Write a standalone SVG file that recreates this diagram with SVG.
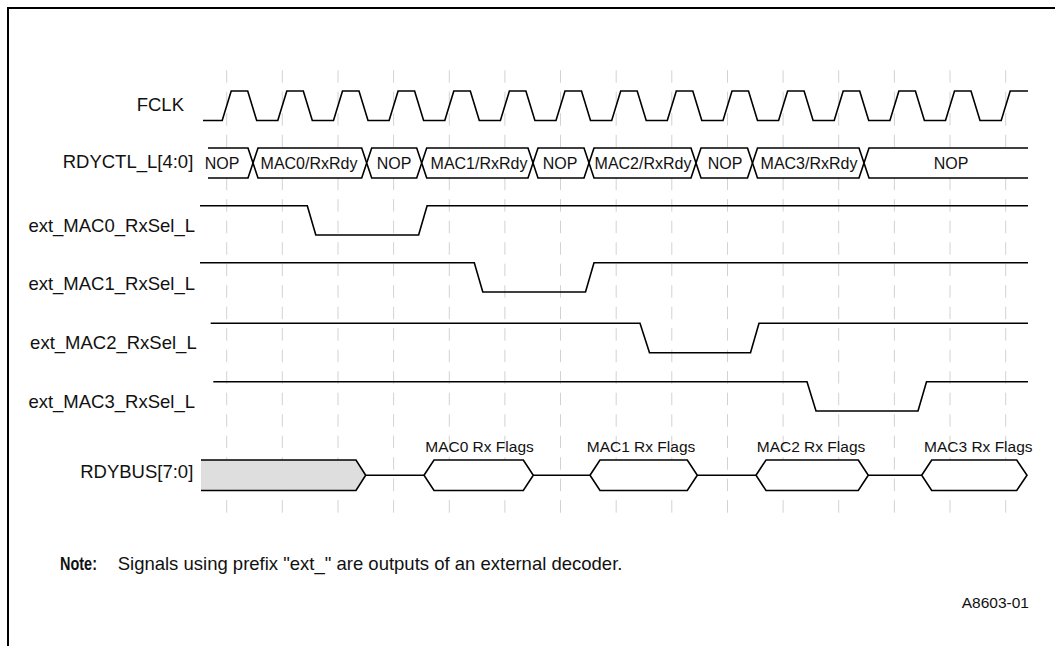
<svg xmlns="http://www.w3.org/2000/svg" width="1055" height="646" viewBox="0 0 1055 646">
<style>
.lbl{font-family:"Liberation Sans",Arial,sans-serif;font-size:18.5px;fill:#111;text-anchor:end}
.bus{font-family:"Liberation Sans",Arial,sans-serif;font-size:16px;fill:#111;text-anchor:middle}
.flg{font-family:"Liberation Sans",Arial,sans-serif;font-size:15.5px;fill:#111;text-anchor:middle}
.note{font-family:"Liberation Sans",Arial,sans-serif;font-size:18.5px;fill:#111}
.w{fill:none;stroke:#000;stroke-width:1.6;stroke-linejoin:miter}
.seg{fill:#fff;stroke:#000;stroke-width:1.6}
.grid line{stroke:#d2d2d2;stroke-width:1;stroke-dasharray:12.5 9}
</style>
<rect x="0" y="0" width="1055" height="646" fill="#fff"/>
<g id="frame">
<path d="M8,646 V8 H1055" fill="none" stroke="#000" stroke-width="2"/>
</g>
<g id="grid" class="grid">
<line x1="226.7" y1="70.2" x2="226.7" y2="513.3"/>
<line x1="282.3" y1="70.2" x2="282.3" y2="513.3"/>
<line x1="338" y1="70.2" x2="338" y2="513.3"/>
<line x1="393.6" y1="70.2" x2="393.6" y2="513.3"/>
<line x1="449.3" y1="70.2" x2="449.3" y2="513.3"/>
<line x1="504.9" y1="70.2" x2="504.9" y2="513.3"/>
<line x1="560.5" y1="70.2" x2="560.5" y2="513.3"/>
<line x1="616.2" y1="70.2" x2="616.2" y2="513.3"/>
<line x1="671.8" y1="70.2" x2="671.8" y2="513.3"/>
<line x1="727.5" y1="70.2" x2="727.5" y2="513.3"/>
<line x1="783.1" y1="70.2" x2="783.1" y2="513.3"/>
<line x1="838.7" y1="70.2" x2="838.7" y2="513.3"/>
<line x1="894.4" y1="70.2" x2="894.4" y2="513.3"/>
<line x1="950" y1="70.2" x2="950" y2="513.3"/>
<line x1="1005.7" y1="70.2" x2="1005.7" y2="513.3"/>
</g>
<g id="fclk">
<text class="lbl" x="184" y="110.7">FCLK</text>
<path class="w" d="M203,120.5 H222.2 L231.2,91 H247.7 L256.7,120.5 H277.8 L286.8,91 H303.3 L312.3,120.5 H333.5 L342.5,91 H359 L368,120.5 H389.1 L398.1,91 H414.6 L423.6,120.5 H444.8 L453.8,91 H470.3 L479.3,120.5 H500.4 L509.4,91 H525.9 L534.9,120.5 H556 L565,91 H581.5 L590.5,120.5 H611.7 L620.7,91 H637.2 L646.2,120.5 H667.3 L676.3,91 H692.8 L701.8,120.5 H723 L732,91 H748.5 L757.5,120.5 H778.6 L787.6,91 H804.1 L813.1,120.5 H834.2 L843.2,91 H859.7 L868.7,120.5 H889.9 L898.9,91 H915.4 L924.4,120.5 H945.5 L954.5,91 H971 L980,120.5 H1001.2 L1010.2,91 H1028"/>
</g>
<g id="rdyctl">
<text class="lbl" x="193.3" y="168.3">RDYCTL_L[4:0]</text>
<path class="seg" d="M208,148 H248 L253,163 L248,178 H208"/>
<path class="seg" d="M253,163 L258,148 H361.7 L366.7,163 L361.7,178 H258 Z"/>
<path class="seg" d="M366.7,163 L371.7,148 H416.7 L421.7,163 L416.7,178 H371.7 Z"/>
<path class="seg" d="M421.7,163 L426.7,148 H528 L533,163 L528,178 H426.7 Z"/>
<path class="seg" d="M533,163 L538,148 H584 L589,163 L584,178 H538 Z"/>
<path class="seg" d="M589,163 L594,148 H691 L696,163 L691,178 H594 Z"/>
<path class="seg" d="M696,163 L701,148 H747.5 L752.5,163 L747.5,178 H701 Z"/>
<path class="seg" d="M752.5,163 L757.5,148 H859 L864,163 L859,178 H757.5 Z"/>
<path class="seg" d="M1028,148 H869 L864,163 L869,178 H1028"/>
<text class="bus" x="222" y="168.5">NOP</text>
<text class="bus" x="309" y="168.5">MAC0/RxRdy</text>
<text class="bus" x="394" y="168.5">NOP</text>
<text class="bus" x="479" y="168.5">MAC1/RxRdy</text>
<text class="bus" x="560" y="168.5">NOP</text>
<text class="bus" x="643" y="168.5">MAC2/RxRdy</text>
<text class="bus" x="725" y="168.5">NOP</text>
<text class="bus" x="809" y="168.5">MAC3/RxRdy</text>
<text class="bus" x="951" y="168.5">NOP</text>
</g>
<g id="mac0sel">
<text class="lbl" x="195" y="231.7">ext_MAC0_RxSel_L</text>
<path class="w" d="M200,205.7 H307.3 L315.8,235 H418.6 L427.1,205.7 H1028"/>
</g>
<g id="mac1sel">
<text class="lbl" x="195" y="290">ext_MAC1_RxSel_L</text>
<path class="w" d="M200,262.7 H474.3 L482.8,292 H585.5 L594,262.7 H1028"/>
</g>
<g id="mac2sel">
<text class="lbl" x="196.7" y="349.3">ext_MAC2_RxSel_L</text>
<path class="w" d="M210.7,323.3 H640 L649.5,352.7 H750.5 L759,323.3 H1028"/>
</g>
<g id="mac3sel">
<text class="lbl" x="195" y="408.3">ext_MAC3_RxSel_L</text>
<path class="w" d="M213.3,381.7 H807 L816,411 H918 L926.5,381.7 H1028"/>
</g>
<g id="rdybus">
<text class="lbl" x="193.3" y="478.3">RDYBUS[7:0]</text>
<polygon points="201,460 356,460 365.7,475.25 356,490.5 201,490.5" fill="#dedede"/>
<path class="w" d="M201,460 H356 L365.7,475.25 L356,490.5 H201"/>
<path class="w" d="M365.7,475.25 H424 M533.3,475.25 H590 M697.3,475.25 H756 M868.3,475.25 H921.7"/>
<path class="seg" d="M424,475.25 L434,460 H523.3 L533.3,475.25 L523.3,490.5 H434 Z"/>
<path class="seg" d="M590,475.25 L600,460 H687.3 L697.3,475.25 L687.3,490.5 H600 Z"/>
<path class="seg" d="M756,475.25 L766,460 H858.3 L868.3,475.25 L858.3,490.5 H766 Z"/>
<path class="seg" d="M921.7,475.25 L931.7,460 H1016.7 L1027,475.25 L1016.7,490.5 H931.7 Z"/>
<text class="flg" x="479.5" y="451.5">MAC0 Rx Flags</text>
<text class="flg" x="641" y="451.5">MAC1 Rx Flags</text>
<text class="flg" x="811" y="451.5">MAC2 Rx Flags</text>
<text class="flg" x="978.3" y="451.5">MAC3 Rx Flags</text>
</g>
<g id="note">
<text class="note" x="60" y="570" font-weight="bold" textLength="37" lengthAdjust="spacingAndGlyphs">Note:</text>
<text class="note" x="117.7" y="570">Signals using prefix "ext_" are outputs of an external decoder.</text>
</g>
<g id="figid">
<text class="flg" x="1029" y="608.3" style="text-anchor:end">A8603-01</text>
</g>
</svg>
